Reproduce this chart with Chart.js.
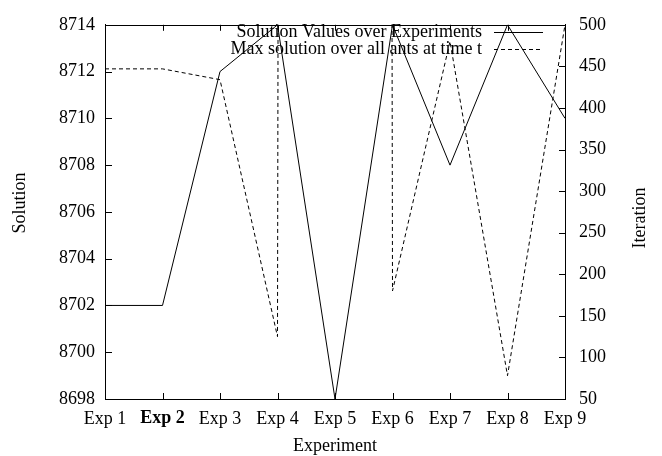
<!DOCTYPE html>
<html>
<head>
<meta charset="utf-8">
<script src="https://cdn.jsdelivr.net/npm/chart.js@4"></script>
<style>
  html, body { margin: 0; padding: 0; background: #fff; }
  #wrap { width: 662px; height: 456px; }
</style>
</head>
<body>
<div id="wrap"><canvas id="chart" width="662" height="456"></canvas></div>
<script>
// Experiments on the x axis
const experiments = ['Exp 1', 'Exp 2', 'Exp 3', 'Exp 4', 'Exp 5', 'Exp 6', 'Exp 7', 'Exp 8', 'Exp 9'];
// Solution values (left axis)
const solutionValues = [8702, 8702, 8712, 8714, 8698, 8714, 8708, 8714, 8710];
// Iteration of max solution (right axis) - Exp 5 is far above the range, clipped
const maxIteration = [447, 447, 434, 125, 60000, 180, 480, 78, 500];

const leftTicks = [8698, 8700, 8702, 8704, 8706, 8708, 8710, 8712, 8714];
const rightTicks = [50, 100, 150, 200, 250, 300, 350, 400, 450, 500];

const FONT = 'Liberation Serif, Times New Roman, serif';
const FS = 18;

// inward tick marks, border, legend and axis titles, gnuplot style
const gnuplotDecor = {
  id: 'gnuplotDecor',
  afterDatasetsDraw(chart) {
    const ctx = chart.ctx;
    const area = chart.chartArea;
    const x = chart.scales.x, y = chart.scales.y, y1 = chart.scales.y1;
    ctx.save();
    ctx.strokeStyle = '#000';
    ctx.lineWidth = 1;
    ctx.beginPath();
    ctx.moveTo(area.left, Math.round(area.top) + 0.5);
    ctx.lineTo(area.right, Math.round(area.top) + 0.5);
    leftTicks.forEach(v => {
      const py = Math.round(y.getPixelForValue(v)) + 0.5;
      ctx.moveTo(area.left, py); ctx.lineTo(area.left + 7, py);
    });
    rightTicks.forEach(v => {
      const py = Math.round(y1.getPixelForValue(v)) + 0.5;
      ctx.moveTo(area.right, py); ctx.lineTo(area.right - 6, py);
    });
    experiments.forEach((e, i) => {
      const px = Math.round(x.getPixelForValue(i)) + 0.5;
      ctx.moveTo(px, area.bottom); ctx.lineTo(px, area.bottom - 6);
      ctx.moveTo(px, area.top); ctx.lineTo(px, area.top + 6);
    });
    ctx.stroke();

    // legend
    ctx.font = FS + 'px ' + FONT;
    ctx.fillStyle = '#000';
    ctx.textAlign = 'right';
    ctx.textBaseline = 'middle';
    const rows = [
      { text: 'Solution Values over Experiments', dash: [], y: 32 },
      { text: 'Max solution over all ants at time t', dash: [4, 3], y: 49 }
    ];
    rows.forEach(r => {
      ctx.fillText(r.text, 482, r.y);
      ctx.setLineDash(r.dash);
      ctx.beginPath();
      ctx.moveTo(494, r.y + 0.5); ctx.lineTo(543, r.y + 0.5);
      ctx.stroke();
    });
    ctx.setLineDash([]);

    // axis titles
    ctx.textAlign = 'center';
    ctx.fillText('Experiment', 335, 446);
    ctx.save();
    ctx.translate(20, 203);
    ctx.rotate(-Math.PI / 2);
    ctx.fillText('Solution', 0, 0);
    ctx.restore();
    ctx.save();
    ctx.translate(640, 218);
    ctx.rotate(-Math.PI / 2);
    ctx.fillText('Iteration', 0, 0);
    ctx.restore();
    ctx.restore();
  }
};

new Chart(document.getElementById('chart').getContext('2d'), {
  type: 'line',
  data: {
    labels: experiments,
    datasets: [
      {
        label: 'Solution Values over Experiments',
        data: solutionValues,
        yAxisID: 'y',
        borderColor: '#000',
        borderWidth: 1,
        pointRadius: 0,
        tension: 0,
        fill: false
      },
      {
        label: 'Max solution over all ants at time t',
        data: maxIteration,
        yAxisID: 'y1',
        borderColor: '#000',
        borderWidth: 1,
        borderDash: [4, 3],
        pointRadius: 0,
        tension: 0,
        fill: false
      }
    ]
  },
  options: {
    responsive: false,
    animation: false,
    devicePixelRatio: 1,
    layout: { padding: { top: 16, left: 0, right: 0, bottom: 0 } },
    plugins: {
      legend: { display: false },
      tooltip: { enabled: false }
    },
    scales: {
      x: {
        type: 'category',
        offset: false,
        grid: { display: false, drawTicks: false },
        border: { display: true, color: '#000', width: 1 },
        ticks: {
          color: '#000',
          padding: 9,
          maxRotation: 0,
          autoSkip: false,
          font: c => ({ family: FONT, size: FS, weight: c.index === 1 ? 'bold' : 'normal' })
        },
        afterFit: s => { s.height = 57; }
      },
      y: {
        position: 'left',
        min: 8698,
        max: 8714,
        grid: { display: false, drawTicks: false },
        border: { display: true, color: '#000', width: 1 },
        ticks: {
          color: '#000',
          padding: 10,
          font: { family: FONT, size: FS },
          callback: v => String(v)
        },
        afterBuildTicks: s => { s.ticks = leftTicks.map(v => ({ value: v })); },
        afterFit: s => { s.width = 105; }
      },
      y1: {
        position: 'right',
        min: 50,
        max: 500,
        grid: { display: false, drawTicks: false },
        border: { display: true, color: '#000', width: 1 },
        ticks: {
          color: '#000',
          padding: 14,
          font: { family: FONT, size: FS },
          callback: v => String(v)
        },
        afterBuildTicks: s => { s.ticks = rightTicks.map(v => ({ value: v })); },
        afterFit: s => { s.width = 97; }
      }
    }
  },
  plugins: [gnuplotDecor]
});
</script>
</body>
</html>
